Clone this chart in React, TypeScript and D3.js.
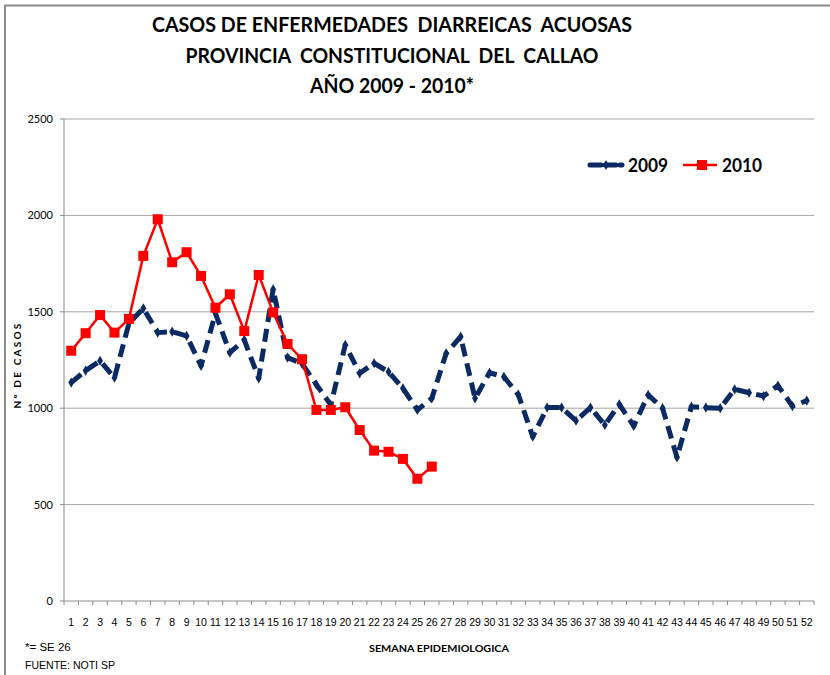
import React from "react";
import * as d3 from "d3";

const weeks: number[] = d3.range(1, 53);
const cases2009: number[] = [1133, 1195, 1246, 1158, 1440, 1518, 1392, 1397, 1375, 1220, 1492, 1288, 1354, 1155, 1617, 1262, 1232, 1122, 1017, 1328, 1181, 1233, 1189, 1103, 991, 1051, 1285, 1371, 1051, 1184, 1163, 1070, 852, 1003, 1003, 935, 1003, 913, 1020, 908, 1069, 1000, 745, 1008, 1003, 1000, 1098, 1080, 1063, 1117, 1011, 1039];
const cases2010: number[] = [1298, 1389, 1483, 1392, 1463, 1790, 1980, 1757, 1809, 1686, 1521, 1591, 1400, 1691, 1497, 1333, 1254, 991, 991, 1005, 887, 780, 774, 737, 634, 697];
const yTicks: number[] = [0, 500, 1000, 1500, 2000, 2500];
const titleLines: string[] = [
  "CASOS DE ENFERMEDADES  DIARREICAS  ACUOSAS",
  "PROVINCIA  CONSTITUCIONAL  DEL  CALLAO",
  "AÑO 2009 - 2010*",
];
const seriesNames: string[] = ["2009", "2010"];

const NAVY = "#0b2a63";
const RED = "#ff0000";

export default function App() {
  const W = 830, H = 675;
  const x = d3.scaleBand<number>().domain(weeks).range([64, 814]);
  const y = d3.scaleLinear().domain([0, 2500]).range([601, 119]);
  const cx = (w: number) => (x(w) as number) + x.bandwidth() / 2;

  const line = d3.line<number>().x((_, i) => cx(weeks[i])).y((d) => y(d));
  const diamond = d3.symbol().type(d3.symbolDiamond).size(30)();

  const titleLens = [480, 413, 164];
  const titleY = [32, 63, 93];

  return (
    <svg width={W} height={H} style={{ position: "absolute", left: 0, top: 0, background: "#fff" }}>
      <rect x={0} y={0} width={W} height={H} fill="#fff" />
      {/* frame */}
      <line x1={4} x2={830} y1={5.5} y2={5.5} stroke="#8c8c8c" strokeWidth={2} />
      <line x1={5} x2={5} y1={5} y2={675} stroke="#8c8c8c" strokeWidth={2} />

      {/* title */}
      {titleLines.map((t, i) => (
        <text key={i} x={392} y={titleY[i]} textAnchor="middle" fontFamily="Lato, 'Open Sans', sans-serif"
          fontWeight="bold" fontSize={20} fill="#000" textLength={titleLens[i]} lengthAdjust="spacingAndGlyphs"
          style={{ whiteSpace: "pre" }}>
          {t}
        </text>
      ))}

      {/* gridlines */}
      {yTicks.map((t) => (
        <g key={t}>
          {t > 0 && <line x1={64} x2={814} y1={y(t)} y2={y(t)} stroke="#a6a6a6" strokeWidth={1} />}
          <line x1={60} x2={64} y1={y(t)} y2={y(t)} stroke="#8c8c8c" strokeWidth={1} />
          <text x={53} y={y(t) + 4} textAnchor="end" fontFamily="Lato, sans-serif" fontSize={11} fill="#000">{t}</text>
        </g>
      ))}
      {/* axes */}
      <line x1={64} x2={64} y1={119} y2={601} stroke="#8c8c8c" strokeWidth={1} />
      <line x1={64} x2={814} y1={601} y2={601} stroke="#8c8c8c" strokeWidth={1} />
      {weeks.map((w) => (
        <line key={"t" + w} x1={x(w) as number} x2={x(w) as number} y1={601} y2={605} stroke="#8c8c8c" strokeWidth={1} />
      ))}
      <line x1={814} x2={814} y1={601} y2={605} stroke="#8c8c8c" strokeWidth={1} />
      {weeks.map((w) => (
        <text key={"l" + w} x={cx(w)} y={626} textAnchor="middle" fontFamily="'Liberation Sans Narrow', 'Liberation Sans', sans-serif"
          fontSize={10.5} fill="#000">{w}</text>
      ))}

      {/* axis titles */}
      <text transform="translate(21,365) rotate(-90)" textAnchor="middle" fontFamily="Lato, sans-serif" fontWeight="bold"
        fontSize={10} letterSpacing={2.2} fill="#000">Nº DE CASOS</text>
      <text x={439} y={652} textAnchor="middle" fontFamily="Lato, sans-serif" fontWeight="bold" fontSize={9.5} fill="#000"
        textLength={140} lengthAdjust="spacingAndGlyphs">SEMANA EPIDEMIOLOGICA</text>

      {/* 2009 series */}
      <path d={line(cases2009) ?? ""} fill="none" stroke={NAVY} strokeWidth={5} strokeDasharray="13 7" strokeLinejoin="round" />
      {cases2009.map((v, i) => (
        <path key={"d" + i} d={diamond ?? ""} transform={`translate(${cx(weeks[i])},${y(v)})`} fill={NAVY} />
      ))}

      {/* 2010 series */}
      <path d={line(cases2010) ?? ""} fill="none" stroke={RED} strokeWidth={2.5} strokeLinejoin="round" />
      {cases2010.map((v, i) => (
        <rect key={"s" + i} x={cx(weeks[i]) - 5} y={y(v) - 5} width={10} height={10} fill={RED} />
      ))}

      {/* legend */}
      <line x1={590} x2={622} y1={165} y2={165} stroke={NAVY} strokeWidth={5} strokeDasharray="11 4" strokeLinecap="round" />
      <path d={diamond ?? ""} transform="translate(606,165)" fill={NAVY} />
      <text x={628} y={171.5} fontFamily="Lato, sans-serif" fontWeight="bold" fontSize={18} fill="#000"
        textLength={40} lengthAdjust="spacingAndGlyphs">{seriesNames[0]}</text>
      <line x1={683} x2={717} y1={165} y2={165} stroke={RED} strokeWidth={2.5} />
      <rect x={697} y={160} width={10} height={10} fill={RED} />
      <text x={722} y={171.5} fontFamily="Lato, sans-serif" fontWeight="bold" fontSize={18} fill="#000"
        textLength={40} lengthAdjust="spacingAndGlyphs">{seriesNames[1]}</text>

      {/* footnotes */}
      <text x={25} y={651} fontFamily="'Liberation Sans Narrow', 'Liberation Sans', sans-serif" fontSize={11.5} fill="#000">*= SE 26</text>
      <text x={25} y={669} fontFamily="'Liberation Sans Narrow', 'Liberation Sans', sans-serif" fontSize={11.5} fill="#000"
        textLength={90} lengthAdjust="spacingAndGlyphs">FUENTE: NOTI SP</text>
    </svg>
  );
}
